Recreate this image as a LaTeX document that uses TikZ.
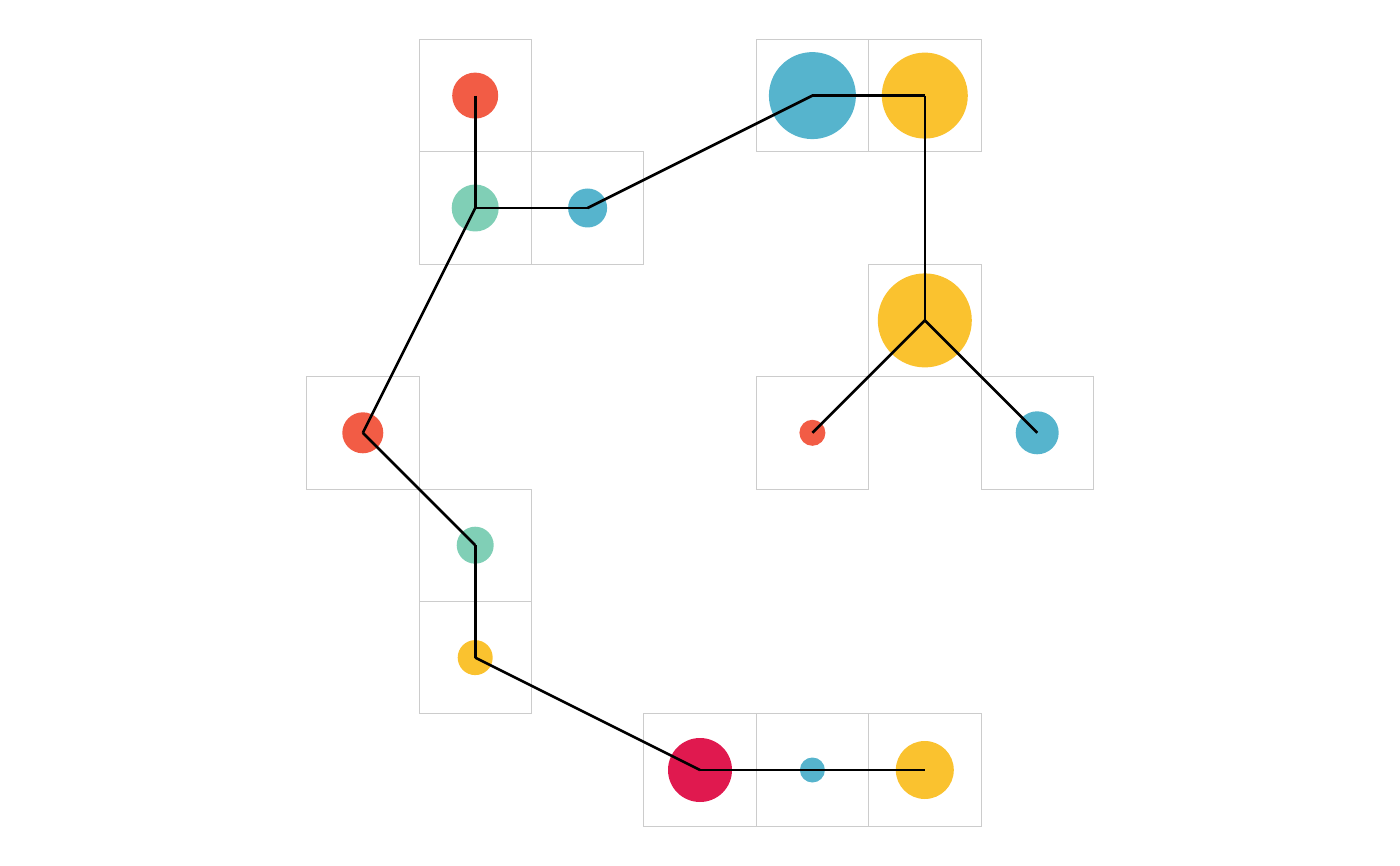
\documentclass[tikz,border=0pt]{standalone}
\begin{document}
\begin{tikzpicture}[x=1pt,y=-1pt,
  cellbox/.style={draw=black!20,line width=0.8pt},
  dot/.style={circle,inner sep=0pt,draw=none,minimum size=#1},
  link/.style={draw=black,line width=2.6pt,line join=miter},
]
\definecolor{cred}{HTML}{F25C45}
\definecolor{cgreen}{HTML}{80CFB6}
\definecolor{cblue}{HTML}{56B4CD}
\definecolor{cyellow}{HTML}{FAC22F}
\definecolor{ccrim}{HTML}{E0194F}
\useasboundingbox (0,0) rectangle (1400,866);
\def\s{112.4}
% grid cells (col,row) with centers at 362.8+col*s, 95.6+row*s
\foreach \c/\r in {1/0,1/1,2/1,4/0,5/0,5/2,4/3,6/3,0/3,1/4,1/5,3/6,4/6,5/6}{
  \draw[cellbox] ({362.8+\c*\s-\s/2},{95.6+\r*\s-\s/2}) rectangle ++(\s,\s);
}
\node[dot=46pt,fill=cred]    (a) at ({362.8+1*\s},{95.6+0*\s}) {};
\node[dot=47pt,fill=cgreen]  (b) at ({362.8+1*\s},{95.6+1*\s}) {};
\node[dot=39pt,fill=cblue]   (c) at ({362.8+2*\s},{95.6+1*\s}) {};
\node[dot=87pt,fill=cblue]   (d) at ({362.8+4*\s},{95.6+0*\s}) {};
\node[dot=86pt,fill=cyellow] (e) at ({362.8+5*\s},{95.6+0*\s}) {};
\node[dot=94pt,fill=cyellow] (f) at ({362.8+5*\s},{95.6+2*\s}) {};
\node[dot=26pt,fill=cred]    (g) at ({362.8+4*\s},{95.6+3*\s}) {};
\node[dot=43pt,fill=cblue]   (h) at ({362.8+6*\s},{95.6+3*\s}) {};
\node[dot=41pt,fill=cred]    (i) at ({362.8+0*\s},{95.6+3*\s}) {};
\node[dot=37pt,fill=cgreen]  (j) at ({362.8+1*\s},{95.6+4*\s}) {};
\node[dot=35pt,fill=cyellow] (k) at ({362.8+1*\s},{95.6+5*\s}) {};
\node[dot=64pt,fill=ccrim]   (l) at ({362.8+3*\s},{95.6+6*\s}) {};
\node[dot=25pt,fill=cblue]   (m) at ({362.8+4*\s},{95.6+6*\s}) {};
\node[dot=58pt,fill=cyellow] (n) at ({362.8+5*\s},{95.6+6*\s}) {};
\draw[link] (a.center) -- (b.center);
\draw[link] (b.center) -- (c.center);
\draw[link] (c.center) -- (d.center);
\draw[link] (d.center) -- (e.center);
\draw[link] (e.center) -- (f.center);
\draw[link] (f.center) -- (g.center);
\draw[link] (f.center) -- (h.center);
\draw[link] (b.center) -- (i.center);
\draw[link] (i.center) -- (j.center);
\draw[link] (j.center) -- (k.center);
\draw[link] (k.center) -- (l.center);
\draw[link] (l.center) -- (m.center);
\draw[link] (m.center) -- (n.center);
\end{tikzpicture}
\end{document}
